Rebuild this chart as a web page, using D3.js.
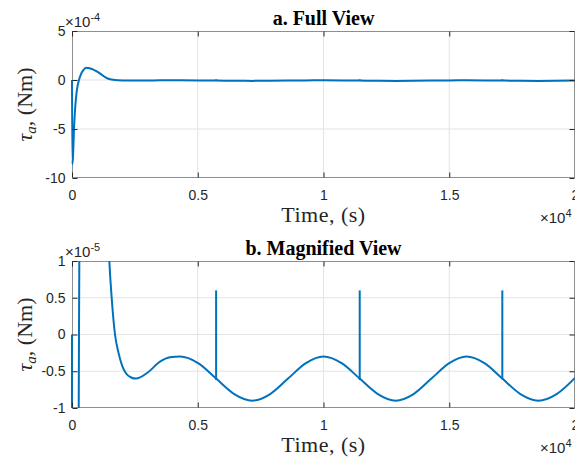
<!DOCTYPE html>
<html>
<head>
<meta charset="utf-8">
<script src="https://cdn.jsdelivr.net/npm/d3@7"></script>
<style>
  body { margin: 0; background: #fff; }
  svg { display: block; }
</style>
</head>
<body>
<div id="chart"></div>
<script>
// torque vs time (time in s, torque in Nm)
const timeSec = [0, 15, 40, 80, 130, 190, 278, 350, 450, 560,
    700, 850, 1000, 1150, 1300, 1400, 1485, 1578, 1710, 1850,
    2000, 2150, 2350, 2545, 3000, 3500, 3900, 4300, 5015, 5730, 6450,
    7170, 7880, 8590, 9300, 10000, 10720, 11440, 12160, 12870, 13580,
    14290, 15000, 15690, 16400, 17110, 17830, 18540, 19270, 20000];
const torque = [0, -8.6e-4, -7.8e-4, -5.0e-4, -2.7e-4, -1.1e-4, 0, 0.55e-4, 1.0e-4, 1.25e-4,
    1.2e-4, 1.05e-4, 0.85e-4, 0.6e-4, 0.32e-4, 0.18e-4, 1.0e-5, 0.5e-5, 0, -0.25e-5,
    -0.43e-5, -0.53e-5, -0.585e-5, -0.6e-5, -0.52e-5, -0.37e-5, -0.31e-5, -0.3e-5, -0.39e-5, -0.6e-5, -0.81e-5,
    -0.9e-5, -0.81e-5, -0.6e-5, -0.39e-5, -0.3e-5, -0.39e-5, -0.6e-5, -0.81e-5, -0.9e-5, -0.81e-5,
    -0.6e-5, -0.39e-5, -0.3e-5, -0.39e-5, -0.6e-5, -0.81e-5, -0.9e-5, -0.81e-5, -0.59e-5];

// short impulses riding on the oscillation
const spikeTime = [5730, 11440, 17110];
const spikeBase = [-0.62e-5, -0.62e-5, -0.61e-5];
const spikePeak = [0.6e-5, 0.6e-5, 0.6e-5];

const xTicks = [0, 5000, 10000, 15000, 20000];
const xTickLabels = ["0", "0.5", "1", "1.5", "2"];

const fullYTicks = [5e-4, 0, -5e-4, -10e-4];
const fullYLabels = ["5", "0", "-5", "-10"];
const magYTicks = [1e-5, 0.5e-5, 0, -0.5e-5, -1e-5];
const magYLabels = ["1", "0.5", "0", "-0.5", "-1"];

const width = 575;
const height = 461;
const blue = "#0072BD";
const ink = "#262626";
const sansFont = "'Liberation Sans', Arial, sans-serif";
const serifFont = "'Liberation Serif', 'Times New Roman', serif";

let svg = d3.select("#chart")
    .append("svg")
    .attr("width", width)
    .attr("height", height);

let points = timeSec.map((t, i) => ({ t: t, v: torque[i] }));

function drawPanel(cfg) {
    let left = 72, right = 575;
    let top = cfg.top, bottom = cfg.bottom;

    let x = d3.scaleLinear().domain([0, 20000]).range([left, right]);
    let y = d3.scaleLinear().domain(cfg.yDomain).range([bottom, top]);

    let g = svg.append("g").attr("id", cfg.id);

    g.append("clipPath")
        .attr("id", cfg.id + "-clip")
        .append("rect")
        .attr("x", left - 1)
        .attr("y", top)
        .attr("width", right - left + 1)
        .attr("height", bottom - top);

    // grid
    g.append("g").selectAll("line")
        .data(xTicks.slice(1, -1))
        .enter()
        .append("line")
        .attr("x1", d => x(d)).attr("x2", d => x(d))
        .attr("y1", top).attr("y2", bottom)
        .attr("stroke", "#e3e3e3");

    g.append("g").selectAll("line")
        .data(cfg.yTicks.slice(1, -1))
        .enter()
        .append("line")
        .attr("x1", left).attr("x2", right)
        .attr("y1", d => y(d)).attr("y2", d => y(d))
        .attr("stroke", "#e3e3e3");

    // box
    g.append("rect")
        .attr("x", left + 0.5)
        .attr("y", top + 0.5)
        .attr("width", right - left - 1)
        .attr("height", bottom - top - 1)
        .attr("fill", "none")
        .attr("stroke", "#8f8f8f");

    // data
    let line = d3.line()
        .x(d => x(d.t))
        .y(d => y(d.v))
        .curve(d3.curveMonotoneX);

    let plot = g.append("g").attr("clip-path", "url(#" + cfg.id + "-clip)");

    plot.append("path")
        .datum(points)
        .attr("d", line)
        .attr("fill", "none")
        .attr("stroke", blue)
        .attr("stroke-width", 2);

    plot.selectAll("line.spike")
        .data(spikeTime)
        .enter()
        .append("line")
        .attr("class", "spike")
        .attr("x1", d => x(d)).attr("x2", d => x(d))
        .attr("y1", (d, i) => y(spikeBase[i]))
        .attr("y2", (d, i) => y(spikePeak[i]))
        .attr("stroke", blue)
        .attr("stroke-width", 2);

    // axes, ticks pointing inward
    let xAxis = d3.axisBottom(x)
        .tickValues(xTicks)
        .tickFormat((d, i) => xTickLabels[i])
        .tickSizeInner(-5)
        .tickSizeOuter(0)
        .tickPadding(13);

    let yAxis = d3.axisLeft(y)
        .tickValues(cfg.yTicks)
        .tickFormat((d, i) => cfg.yLabels[i])
        .tickSizeInner(-5)
        .tickSizeOuter(0)
        .tickPadding(7);

    let gx = g.append("g")
        .attr("transform", "translate(0," + (bottom - 0.5) + ")")
        .call(xAxis);
    let gy = g.append("g")
        .attr("transform", "translate(" + (left + 0.5) + ",0)")
        .call(yAxis);
    let gt = g.append("g")
        .attr("transform", "translate(0," + (top + 0.5) + ")")
        .call(d3.axisTop(x).tickValues(xTicks).tickFormat("").tickSizeInner(-5).tickSizeOuter(0));
    let gr = g.append("g")
        .attr("transform", "translate(" + (right - 0.5) + ",0)")
        .call(d3.axisRight(y).tickValues(cfg.yTicks).tickFormat("").tickSizeInner(-5).tickSizeOuter(0));

    [gx, gy, gt, gr].forEach(function (a) {
        a.select(".domain").remove();
        a.selectAll(".tick line").attr("stroke", ink);
        a.selectAll("text")
            .attr("fill", ink)
            .style("font-family", sansFont)
            .style("font-size", "14px");
    });

    // exponent labels
    let yExp = g.append("text")
        .attr("x", 65)
        .attr("y", top - 4)
        .attr("fill", ink)
        .style("font-family", sansFont)
        .style("font-size", "15px");
    yExp.append("tspan").text("\u00d710");
    yExp.append("tspan").attr("dy", -6).style("font-size", "11px").text(cfg.yExp);

    let xExp = g.append("text")
        .attr("x", 540)
        .attr("y", bottom + 45)
        .attr("fill", ink)
        .style("font-family", sansFont)
        .style("font-size", "15px");
    xExp.append("tspan").text("\u00d710");
    xExp.append("tspan").attr("dy", -6).style("font-size", "11px").text("4");

    // title
    g.append("text")
        .attr("x", (left + right) / 2)
        .attr("y", top - 6)
        .attr("text-anchor", "middle")
        .attr("fill", "#000")
        .style("font-family", serifFont)
        .style("font-weight", "bold")
        .style("font-size", "20px")
        .text(cfg.title);

    // x label
    g.append("text")
        .attr("x", (left + right) / 2)
        .attr("y", bottom + 44)
        .attr("text-anchor", "middle")
        .attr("fill", ink)
        .style("font-family", serifFont)
        .style("font-size", "22px")
        .style("letter-spacing", "0.5px")
        .text("Time, (s)");

    // y label
    let yl = g.append("text")
        .attr("transform", "translate(32," + ((top + bottom) / 2) + ") rotate(-90)")
        .attr("text-anchor", "middle")
        .attr("fill", ink)
        .style("font-family", serifFont)
        .style("font-size", "22px");
    yl.append("tspan").style("font-style", "italic").text("\u03c4");
    yl.append("tspan").attr("dy", 4).style("font-style", "italic").style("font-size", "15px").text("a");
    yl.append("tspan").attr("dy", -4).text(", (Nm)");
}

drawPanel({
    id: "full",
    top: 31,
    bottom: 178,
    yDomain: [-10e-4, 5e-4],
    yTicks: fullYTicks,
    yLabels: fullYLabels,
    yExp: "-4",
    title: "a. Full View"
});

drawPanel({
    id: "mag",
    top: 261,
    bottom: 408,
    yDomain: [-1e-5, 1e-5],
    yTicks: magYTicks,
    yLabels: magYLabels,
    yExp: "-5",
    title: "b. Magnified View"
});
</script>
</body>
</html>
